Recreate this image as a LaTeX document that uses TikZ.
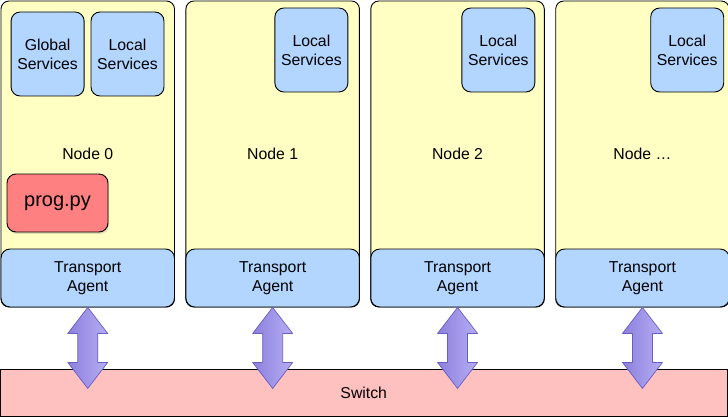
\documentclass[tikz,border=0pt]{standalone}
\usepackage{fontspec}
\setmainfont{Liberation Sans}
\usepackage{xcolor}
\usetikzlibrary{positioning,calc,shadows}
\definecolor{nodeyel}{RGB}{255,255,196}
\definecolor{svcblue}{RGB}{178,214,255}
\definecolor{progred}{RGB}{255,128,128}
\definecolor{switchred}{RGB}{255,192,192}
\definecolor{arrdark}{RGB}{140,128,220}
\definecolor{arrlight}{RGB}{182,174,245}
\definecolor{arrline}{RGB}{106,92,196}

\begin{document}
\begin{tikzpicture}[
x=1pt,y=-1pt,
host/.style={
  draw,
  fill=nodeyel,
  rounded corners=8pt,
  line width=0.9pt,
  minimum width=173.5pt,
  minimum height=306pt,
  font=\fontsize{15.8}{19}\selectfont
  },
svc/.style={
  draw,
  fill=svcblue,
  rounded corners=9pt,
  line width=0.9pt,
  align=center,
  inner sep=0pt,
  minimum width=73pt,
  minimum height=84pt,
  font=\fontsize{15.8}{19}\selectfont
  },
agent/.style={
  draw,
  fill=svcblue,
  rounded corners=9pt,
  line width=0.9pt,
  align=center,
  inner sep=0pt,
  minimum width=173.5pt,
  minimum height=58pt,
  font=\fontsize{15.8}{19}\selectfont
  },
prog/.style={
  draw,
  fill=progred,
  rounded corners=9pt,
  line width=0.9pt,
  inner sep=0pt,
  minimum width=101pt,
  minimum height=58pt,
  drop shadow={shadow xshift=1pt,shadow yshift=-2pt,opacity=0.25},
  font=\fontsize{20}{24}\selectfont
  },
swbox/.style={
  draw,
  fill=switchred,
  line width=0.9pt,
  minimum width=727pt,
  minimum height=47pt,
  font=\fontsize{15.8}{19}\selectfont
  },
blockarr/.style={
  draw=arrline,
  line width=0.7pt,
  line join=round,
  left color=arrdark,
  right color=arrlight
  },
node distance=10.5pt
]
\useasboundingbox (0,0) rectangle (728,417);

%The hosts
\node[host] (n0) at (87.75,154)
  {Node 0};
\node[host,right=of n0] (n1)
  {Node 1};
\node[host,right=of n1] (n2)
  {Node 2};
\node[host,right=of n2] (n3)
  {Node \dots};

%Services
\node[svc,below left=11pt and 10.5pt of n0.north east] (ls0)
  {Local\\Services};
\node[svc,left=6pt of ls0] (gs0)
  {Global\\Services};
\node[svc,below left=7pt and 11.5pt of n1.north east] (ls1)
  {Local\\Services};
\node[svc,below left=7pt and 9.5pt of n2.north east] (ls2)
  {Local\\Services};
\node[svc,below left=7pt and 5.5pt of n3.north east] (ls3)
  {Local\\Services};

\node[prog] (prog) at (57.5,203)
  {prog.py};

%Transport agents
\node[agent,anchor=south] (ta0) at (n0.south)
  {Transport\\Agent};
\node[agent,anchor=south] (ta1) at (n1.south)
  {Transport\\Agent};
\node[agent,anchor=south] (ta2) at (n2.south)
  {Transport\\Agent};
\node[agent,anchor=south] (ta3) at (n3.south)
  {Transport\\Agent};

\node[swbox] (sw) at (363.75,392.75)
  {Switch};

%Links to the switch
\foreach \i in {0,...,3}
  \path[blockarr] (ta\i.south) -- ++(20,26) -- ++(-10,0) -- ++(0,29)
    -- ++(10,0) -- ++(-20,26) -- ++(-20,-26) -- ++(10,0) -- ++(0,-29)
    -- ++(-10,0) -- cycle;

\end{tikzpicture}
\end{document}
